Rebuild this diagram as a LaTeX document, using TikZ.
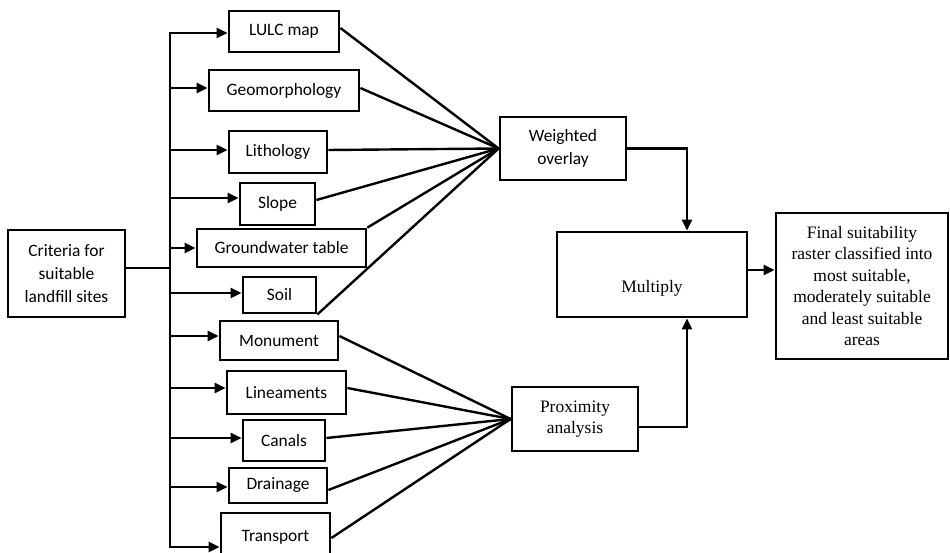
\documentclass[tikz,border=0pt]{standalone}
\usepackage{fontspec}
\newfontfamily\calfont{Carlito}
\newfontfamily\tmsfont{Liberation Serif}
\usetikzlibrary{arrows.meta}
\begin{document}
\begin{tikzpicture}[x=1pt,y=-1pt,
  box/.style={draw, line width=2.8pt, inner sep=0pt, align=center},
  sbox/.style={box, font=\calfont\fontsize{17.4}{23}\selectfont},
  tbox/.style={box, font=\tmsfont\fontsize{17.5}{21.5}\selectfont},
  con/.style={line width=2.4pt},
  arr/.style={line width=2.4pt, -{Triangle[length=11pt,width=10pt]}}]
\useasboundingbox[fill=white] (0,0) rectangle (950,553);
% left boxes
\node[sbox, minimum width=117pt, minimum height=87pt] (cr) at (66.5,273.5) {Criteria for\\suitable\\landfill sites};
\node[sbox, minimum width=110pt, minimum height=41pt] (lulc) at (284,31.5) {LULC map};
\node[sbox, minimum width=150pt, minimum height=41pt] (geo) at (284,90.5) {Geomorphology};
\node[sbox, minimum width=98pt, minimum height=42pt] (lith) at (278,152) {Lithology};
\node[sbox, minimum width=75pt, minimum height=42pt] (slope) at (277.5,204) {Slope};
\node[sbox, minimum width=169pt, minimum height=38pt] (gw) at (281.5,248) {Groundwater table};
\node[sbox, minimum width=73pt, minimum height=36pt] (soil) at (279.5,295) {Soil};
\node[sbox, minimum width=118pt, minimum height=39pt] (mon) at (279,340.5) {Monument};
\node[sbox, minimum width=119pt, minimum height=43pt] (lin) at (286.5,392.5) {Lineaments};
\node[sbox, minimum width=82pt, minimum height=41pt] (can) at (284,440.5) {Canals};
\node[sbox, minimum width=98pt, minimum height=35pt] (dra) at (278,485.5) {Drainage};
\node[sbox, minimum width=109pt, minimum height=52pt] (tp) at (275.5,539) {\raisebox{7pt}{Transport}};
% right boxes
\node[sbox, minimum width=126pt, minimum height=63pt] (wo) at (563,148.5) {Weighted\\overlay};
\node[tbox, minimum width=126pt, minimum height=64pt] (pa) at (575,419) {Proximity\\analysis};
\node[tbox, minimum width=190pt, minimum height=85pt] (mu) at (652,274.5) {};
\node[font=\tmsfont\fontsize{17.5}{21.5}\selectfont, inner sep=0pt] (mut) at (652,288) {Multiply};
\node[tbox, minimum width=172pt, minimum height=146pt] (fi) at (862,286) {Final suitability\\raster classified into\\most suitable,\\moderately suitable\\and least suitable\\areas};
% trunk
\coordinate (j) at (170,268);
\coordinate (t1) at (170,33);
\coordinate (t2) at (170,88);
\coordinate (t3) at (170,150);
\coordinate (t4) at (170,198);
\coordinate (t5) at (170,248);
\coordinate (t6) at (170,293);
\coordinate (t7) at (170,336);
\coordinate (t8) at (170,388);
\coordinate (t9) at (170,438);
\coordinate (t10) at (170,487);
\coordinate (t11) at (170,547);
\draw[con, line cap=rect] (t1) -- (t11);
\draw[con] (cr.east |- j) -- (j);
\draw[arr] (t1) -- (t1 -| lulc.west);
\draw[arr] (t2) -- (t2 -| geo.west);
\draw[arr] (t3) -- (t3 -| lith.west);
\draw[arr] (t4) -- (t4 -| slope.west);
\draw[arr] (t5) -- (t5 -| gw.west);
\draw[arr] (t6) -- (t6 -| soil.west);
\draw[arr] (t7) -- (t7 -| mon.west);
\draw[arr] (t8) -- (t8 -| lin.west);
\draw[arr] (t9) -- (t9 -| can.west);
\draw[arr] (t10) -- (t10 -| dra.west);
\draw[arr] (t11) -- (t11 -| tp.west);
% converging lines
\draw[con] ([yshift=3.5pt]lulc.east) -- (wo.west);
\draw[con] ([yshift=2.5pt]geo.east) -- (wo.west);
\draw[con] ([yshift=2pt]lith.east) -- (wo.west);
\draw[con] ([yshift=4pt]slope.east) -- (wo.west);
\draw[con] (gw.north east) -- (wo.west);
\draw[con] (soil.south east) -- (wo.west);
\draw[con] ([yshift=4.5pt]mon.east) -- (pa.west);
\draw[con] ([yshift=4.5pt]lin.east) -- (pa.west);
\draw[con] ([yshift=2.5pt]can.east) -- (pa.west);
\draw[con] ([yshift=-4.5pt]dra.east) -- (pa.west);
\draw[con] ([yshift=1pt]tp.east) -- (pa.west);
% right flow
\draw[arr] (wo.east) -| ([xshift=35pt]mu.north);
\draw[arr] ([yshift=-8pt]pa.east) -| ([xshift=35pt]mu.south);
\draw[arr] ([yshift=4.5pt]mu.east) -- ([yshift=4.5pt]mu.east -| fi.west);
\end{tikzpicture}
\end{document}
